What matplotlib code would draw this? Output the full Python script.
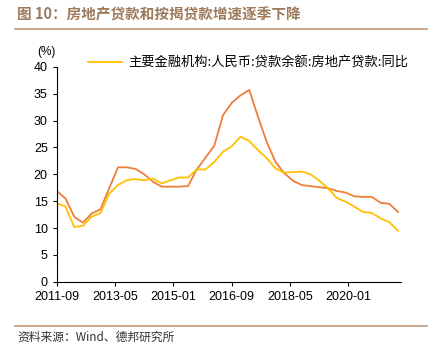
import matplotlib
matplotlib.use('Agg')
import matplotlib.pyplot as plt

plt.rcParams['font.family'] = ['Liberation Sans', 'Noto Sans CJK SC', 'DejaVu Sans']

## quarterly data, 2011-09 .. 2021-06
months = [3 * i for i in range(40)]  # months since 2011-09
tick_pos = [0, 20, 40, 60, 80, 100]
tick_labels = ['2011-09', '2013-05', '2015-01', '2016-09', '2018-05', '2020-01']

# 主要金融机构:人民币:贷款余额:房地产贷款:同比
property_loans = [14.6, 14.0, 10.2, 10.4, 12.1, 12.8, 16.4, 18.0, 18.9, 19.1,
                  18.9, 19.2, 18.3, 18.9, 19.4, 19.4, 20.9, 20.9, 22.3, 24.2,
                  25.2, 27.0, 26.2, 24.5, 23.0, 21.1, 20.3, 20.4, 20.5, 20.0,
                  18.8, 17.4, 15.6, 14.9, 14.0, 13.0, 12.8, 11.8, 11.1, 9.5]
# 个人住房贷款 (no legend entry in the original)
mortgage_loans = [16.9, 15.5, 12.1, 11.0, 12.7, 13.5, 17.4, 21.3, 21.3, 21.0,
                  20.0, 18.6, 17.7, 17.7, 17.7, 17.8, 20.9, 23.1, 25.3, 31.0,
                  33.3, 34.7, 35.7, 30.7, 26.0, 22.3, 20.2, 18.8, 18.0, 17.8,
                  17.6, 17.4, 16.9, 16.6, 15.9, 15.8, 15.8, 14.7, 14.5, 13.0]

brown = '#C09A78'
cjk = ['Noto Sans CJK SC', 'DejaVu Sans']

fig = plt.figure(figsize=(4.33, 3.5), dpi=100)

# header and footer
fig.text(0.04, 0.958, '图 10：房地产贷款和按揭贷款增速逐季下降', fontsize=10.5,
         color='#9E7A5C', fontweight='bold', family=cjk, va='center')
fig.add_artist(plt.Line2D([0.035, 0.985], [0.917, 0.917], color=brown, lw=1.2))
fig.add_artist(plt.Line2D([0.035, 0.985], [0.068, 0.068], color=brown, lw=1.2))
fig.text(0.04, 0.036, '资料来源：Wind、德邦研究所', fontsize=8.5, color='#333333',
         family=cjk, va='center')

ax = fig.add_axes([0.131, 0.195, 0.795, 0.614])
ax.plot(months, mortgage_loans, color='#EE7E38', lw=1.3)
ax.plot(months, property_loans, color='#FFC000', lw=1.3,
        label='主要金融机构:人民币:贷款余额:房地产贷款:同比')

ax.set_xlim(0, 118)
ax.set_ylim(0, 40)
ax.set_yticks(range(0, 41, 5))
ax.set_xticks(tick_pos)
ax.set_xticklabels(tick_labels)
ax.tick_params(axis='both', direction='out', length=3, labelsize=9, colors='black')
for side in ['top', 'right']:
    ax.spines[side].set_visible(False)

ax.text(-0.03, 1.04, '(%)', transform=ax.transAxes, fontsize=8.5, ha='center',
        va='bottom')

leg = ax.legend(loc='upper left', bbox_to_anchor=(0.055, 1.105), frameon=False,
                prop={'family': cjk, 'size': 9.5}, handlelength=2.6,
                handletextpad=0.5)

fig.savefig('out.png', dpi=100)
